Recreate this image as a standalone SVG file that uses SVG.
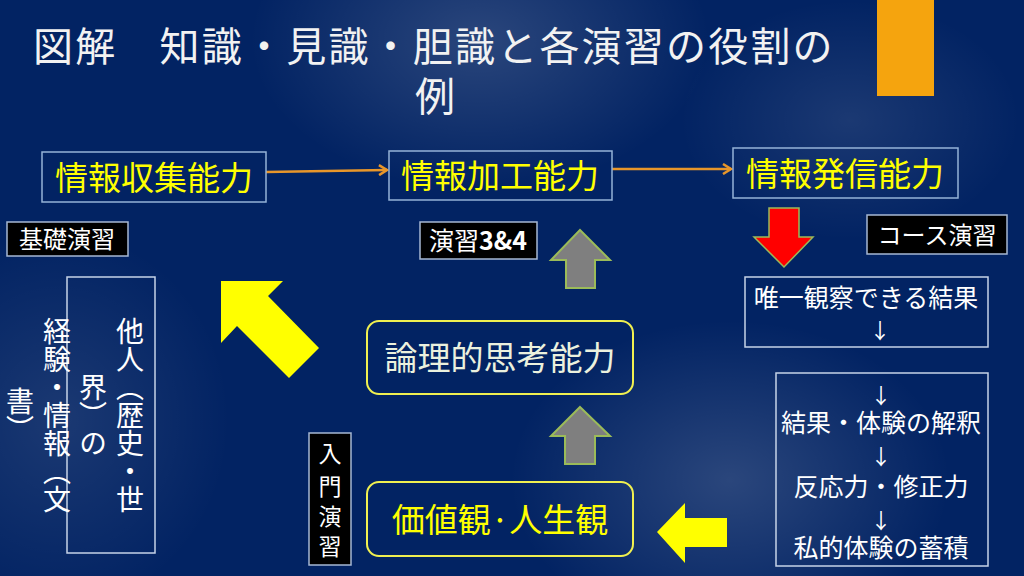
<svg xmlns="http://www.w3.org/2000/svg" width="1024" height="576" viewBox="0 0 1024 576">
<defs>
<radialGradient id="g1" cx="0.5" cy="0.5" r="0.5"><stop offset="0" stop-color="#ffffff" stop-opacity="0.16"/><stop offset="1" stop-color="#ffffff" stop-opacity="0"/></radialGradient>
<radialGradient id="g2" cx="0.5" cy="0.5" r="0.5"><stop offset="0" stop-color="#ffffff" stop-opacity="0.10"/><stop offset="1" stop-color="#ffffff" stop-opacity="0"/></radialGradient>
<marker id="oa" markerWidth="12" markerHeight="12" refX="10" refY="6" orient="auto" markerUnits="userSpaceOnUse"><path d="M2,1 L10,6 L2,11" fill="none" stroke="#e8962a" stroke-width="2.5"/></marker>
<style>
.jp{font-family:"Noto Sans CJK JP","Noto Sans CJK SC",sans-serif}
.title{fill:#f2f2f2;font-size:40px;letter-spacing:2.2px}
.ybox{fill:none;stroke:#95b3d7;stroke-width:1.5}
.ytxt{fill:#ffff00;font-size:33px;text-anchor:middle}
.tag{fill:#000000;stroke:#a6b8d4;stroke-width:1.5}
.tagt{fill:#ffffff;font-size:24px;text-anchor:middle}
.wbox{fill:none;stroke:#c6d3e8;stroke-width:1.5}
.wt{fill:#ffffff;font-size:25px;text-anchor:middle}
.ar{fill:#ffffff;font-size:21px;text-anchor:middle}
.rbox{fill:none;stroke:#f0f050;stroke-width:2}
.gray{fill:#7f7f7f;stroke:#9bbb59;stroke-width:2}
.conn{stroke:#e8962a;stroke-width:2.5;fill:none}
.vt{fill:#ffffff;font-size:28px;writing-mode:vertical-rl;text-anchor:middle}
</style>
</defs>
<rect width="1024" height="576" fill="#022363"/>
<ellipse cx="480" cy="40" rx="230" ry="150" fill="url(#g1)"/>
<ellipse cx="60" cy="420" rx="170" ry="190" fill="url(#g2)"/>
<ellipse cx="730" cy="480" rx="220" ry="160" fill="url(#g1)"/>
<ellipse cx="850" cy="120" rx="170" ry="120" fill="url(#g2)"/>

<g id="title">
<text class="jp title" x="33" y="61">図解　知識・見識・胆識と各演習の役割の</text>
<text class="jp title" x="415" y="111">例</text>
</g>
<rect id="orange-bar" x="877" y="0" width="57" height="96" fill="#f5a40e"/>

<g id="connectors">
<line class="conn" x1="266" y1="172" x2="387" y2="170" marker-end="url(#oa)"/>
<line class="conn" x1="612" y1="169" x2="731" y2="169" marker-end="url(#oa)"/>
<polygon id="red-arrow" points="769,208 799,208 799,237 813,237 784,267 754,237 769,237" fill="#ff0000" stroke="#9bbb59" stroke-width="1.5"/>
<polygon id="gray-arrow-1" class="gray" points="580,230 610,260 595,260 595,288 566,288 566,260 551,260"/>
<polygon id="gray-arrow-2" class="gray" points="580,407 610,436 595,436 595,464 565,464 565,436 551,436"/>
<polygon id="yellow-arrow-diag" points="221,281 283,281 268,296 319,348 289,378 237,326 221,343" fill="#ffff00"/>
<polygon id="yellow-arrow-left" points="657,532 685,503 685,518 727,518 727,547 685,547 685,563" fill="#ffff00"/>
</g>

<g id="n-collect">
<rect class="ybox" x="42" y="152" width="224" height="50"/>
<text class="jp ytxt" x="154" y="189.5">情報収集能力</text>
</g>
<g id="n-process">
<rect class="ybox" x="389" y="151" width="223" height="49"/>
<text class="jp ytxt" x="500" y="188">情報加工能力</text>
</g>
<g id="n-send">
<rect class="ybox" x="733" y="148" width="225" height="50"/>
<text class="jp ytxt" x="845" y="185.5">情報発信能力</text>
</g>

<g id="tag-kiso">
<rect class="tag" x="7" y="222" width="121" height="34"/>
<text class="jp tagt" x="67" y="248">基礎演習</text>
</g>
<g id="tag-34">
<rect class="tag" x="420" y="222" width="117" height="37"/>
<text class="jp tagt" x="478" y="250" style="font-size:25px">演習<tspan font-weight="bold">3&amp;4</tspan></text>
</g>
<g id="tag-course">
<rect class="tag" x="867" y="215" width="140" height="39"/>
<text class="jp tagt" x="937" y="244">コース演習</text>
</g>
<g id="tag-nyumon">
<rect class="tag" x="309" y="433" width="42" height="132"/>
<text class="jp tagt" x="330" style="font-size:23px"><tspan x="330" y="462">入</tspan><tspan x="330" y="495">門</tspan><tspan x="330" y="525">演</tspan><tspan x="330" y="555">習</tspan></text>
</g>

<g id="n-others">
<rect class="wbox" x="67" y="277" width="88" height="276"/>
<text class="jp vt" x="130" y="415">他人（歴史・世</text>
<text class="jp vt" x="93" y="415">界）の</text>
<text class="jp vt" x="57" y="415">経験・情報（文</text>
<text class="jp vt" x="20" y="415">書）</text>
</g>

<g id="n-logic">
<rect class="rbox" x="367" y="321" width="266" height="73" rx="12"/>
<text class="jp ytxt" x="500" y="370" style="fill:#ebf1de">論理的思考能力</text>
</g>
<g id="n-values">
<rect class="rbox" x="367" y="482" width="266" height="74" rx="12"/>
<text class="jp ytxt" x="500" y="531.5">価値観·人生観</text>
</g>

<g id="n-observe">
<rect class="wbox" x="745" y="277" width="243" height="70"/>
<text class="jp wt" x="866" y="306.5">唯一観察できる結果</text>
<text class="jp ar" x="880" y="338">↓</text>
</g>
<g id="n-experience">
<rect class="wbox" x="776" y="373" width="212" height="193"/>
<text class="jp ar" x="881" y="403">↓</text>
<text class="jp wt" x="881" y="432">結果・体験の解釈</text>
<text class="jp ar" x="881" y="464">↓</text>
<text class="jp wt" x="881" y="496">反応力・修正力</text>
<text class="jp ar" x="881" y="528">↓</text>
<text class="jp wt" x="881" y="557">私的体験の蓄積</text>
</g>
</svg>
